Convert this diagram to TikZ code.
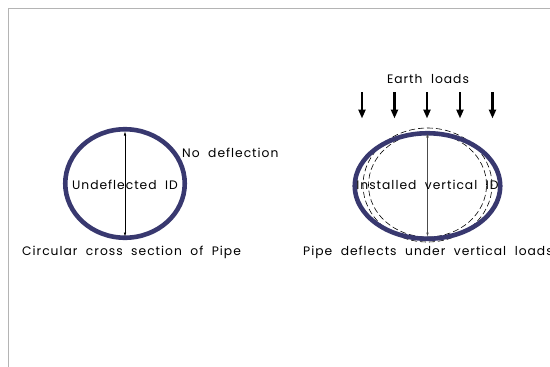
\documentclass[tikz,border=0pt]{standalone}
\usepackage{fontspec}
\setmainfont[WordSpace=2.0,LetterSpace=8]{Poppins}
\usetikzlibrary{arrows.meta,shapes.geometric}
\definecolor{pipe}{HTML}{38386F}
\definecolor{framegray}{HTML}{B4B4B4}
\tikzset{
  lbl/.style={font=\fontsize{12.3}{12.3}\selectfont, inner sep=0pt},
  pipewall/.style={draw=pipe, line width=4.6pt},
  idarrow/.style={{Latex[length=4pt,width=2.6pt]}-{Latex[length=4pt,width=2.6pt]}, line width=0.6pt},
  load/.style={-{Triangle[length=9pt,width=7pt]}, line width=2.8pt},
  dashring/.style={draw, dash pattern=on 6pt off 3pt, line width=0.6pt}
}
\begin{document}
\begin{tikzpicture}[x=1pt,y=-1pt]
\useasboundingbox (0,0) rectangle (550,367);
% frame
\coordinate (fr) at (550,8.5);
\coordinate (fc) at (8.5,8.5);
\coordinate (fb) at (8.5,367);
\draw[framegray, line width=1.8pt] (fr) -- (fc) -- (fb);

% left pipe
\node[pipewall, ellipse, minimum width=119.5pt, minimum height=108.5pt, inner sep=0pt] (lp) at (125,183.5) {};
\coordinate (lt) at (125,131.5);
\coordinate (lb) at (125,236.5);
\draw[idarrow] (lt) -- (lb);
\node[lbl] (lid) at (125,184.5) {Undeflected ID};
\node[lbl, anchor=west] (nodef) at (182,153) {No deflection};
\node[lbl, anchor=west] (lcap) at (22,252) {Circular cross section of Pipe};

% right pipe
\node[dashring, ellipse, minimum width=129pt, minimum height=114pt, inner sep=0pt] (dout) at (427.5,185) {};
\node[dashring, ellipse, minimum width=118pt, minimum height=104pt, inner sep=0pt] (din) at (427.5,185) {};
\node[pipewall, ellipse, minimum width=145.5pt, minimum height=105.5pt, inner sep=0pt] (rp) at (427.5,186) {};
\coordinate (rt) at (427.5,133.5);
\coordinate (rb) at (427.5,236.5);
\draw[idarrow, draw=black!70] (rt) -- (rb);
\node[lbl] (rid) at (427.5,185) {Installed vertical ID};
\node[lbl] (earth) at (428,79) {Earth loads};
\node[lbl, anchor=west] (rcap) at (303,252) {Pipe deflects under vertical loads};

% load arrows
\foreach \i/\x in {1/362,2/394.5,3/427,4/460,5/492.5}{
  \coordinate (ls\i) at (\x,92);
  \coordinate (le\i) at (\x,118.5);
  \draw[load] (ls\i) -- (le\i);
}
\end{tikzpicture}
\end{document}
